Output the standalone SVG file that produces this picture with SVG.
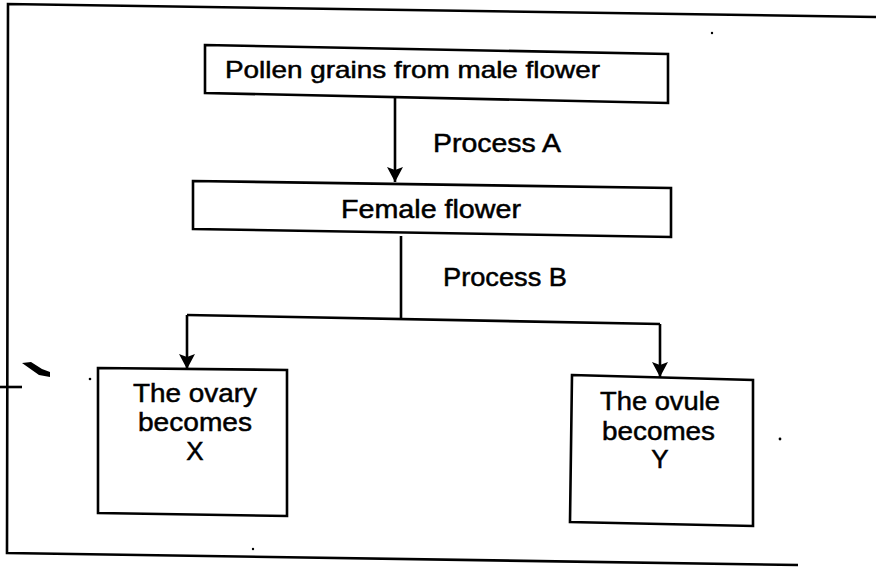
<svg xmlns="http://www.w3.org/2000/svg" width="876" height="567" viewBox="0 0 876 567">
  <style>
    .box { fill: #ffffff; stroke: #000000; stroke-width: 2.6; stroke-linejoin: miter; }
    .ln { fill: none; stroke: #000000; stroke-width: 2.6; }
    .t { font-family: "Liberation Sans", Arial, sans-serif; fill: #000000; stroke: #000000; stroke-width: 0.5; }
    .dot { fill: #000000; }
  </style>
  <defs>
    <marker id="arr" markerUnits="userSpaceOnUse" markerWidth="16" markerHeight="16" refX="15" refY="8" orient="auto">
      <path d="M0,0 L15,8 L0,16 L3,8 z" fill="#000000"/>
    </marker>
  </defs>
  <rect x="0" y="0" width="876" height="567" fill="#ffffff"/>

  <g id="frame">
    <polyline class="ln" points="876,17 8,4 7,553 798,565"/>
    <line class="ln" x1="0" y1="387" x2="22" y2="387" stroke-width="1.8"/>
    <path d="M22,363 L31,362 L42,369 L50,372 L50,377 L39,375 Z" fill="#000000"/>
    <circle class="dot" cx="712" cy="33" r="1.2"/>
    <circle class="dot" cx="90" cy="379" r="1.3"/>
    <circle class="dot" cx="254" cy="447" r="1.2"/>
    <circle class="dot" cx="120" cy="488" r="1"/>
    <circle class="dot" cx="253" cy="549" r="1.2"/>
    <circle class="dot" cx="780" cy="439" r="1.4"/>
  </g>

  <g id="connectors">
    <line class="ln" x1="395" y1="98" x2="395" y2="182" marker-end="url(#arr)"/>
    <line class="ln" x1="401" y1="236" x2="401" y2="319"/>
    <line class="ln" x1="187" y1="315" x2="660" y2="324"/>
    <line class="ln" x1="187" y1="315" x2="187" y2="369" marker-end="url(#arr)"/>
    <line class="ln" x1="660" y1="324" x2="660" y2="377" marker-end="url(#arr)"/>
    <text class="t" x="433" y="152" font-size="26" textLength="128" lengthAdjust="spacingAndGlyphs">Process A</text>
    <text class="t" x="443" y="286" font-size="26" textLength="124" lengthAdjust="spacingAndGlyphs">Process B</text>
  </g>

  <g id="node-pollen">
    <polygon class="box" points="205,45 668,54 668,103 205,93"/>
    <text class="t" x="225" y="78" font-size="24" textLength="375" lengthAdjust="spacingAndGlyphs">Pollen grains from male flower</text>
  </g>

  <g id="node-female">
    <polygon class="box" points="193,181 671,188 671,237 193,229"/>
    <text class="t" x="341" y="218" font-size="25" textLength="180" lengthAdjust="spacingAndGlyphs">Female flower</text>
  </g>

  <g id="node-x">
    <polygon class="box" points="98,368 287,370 287,516 98,513"/>
    <text class="t" x="133" y="402" font-size="26" textLength="124" lengthAdjust="spacingAndGlyphs">The ovary</text>
    <text class="t" x="138" y="431" font-size="26" textLength="114" lengthAdjust="spacingAndGlyphs">becomes</text>
    <text class="t" x="195" y="460" font-size="26" text-anchor="middle">X</text>
  </g>

  <g id="node-y">
    <polygon class="box" points="572,375 753,380 753,526 570,522"/>
    <text class="t" x="600" y="410" font-size="26" textLength="120" lengthAdjust="spacingAndGlyphs">The ovule</text>
    <text class="t" x="602" y="440" font-size="26" textLength="113" lengthAdjust="spacingAndGlyphs">becomes</text>
    <text class="t" x="660" y="468" font-size="26" text-anchor="middle">Y</text>
  </g>
</svg>
